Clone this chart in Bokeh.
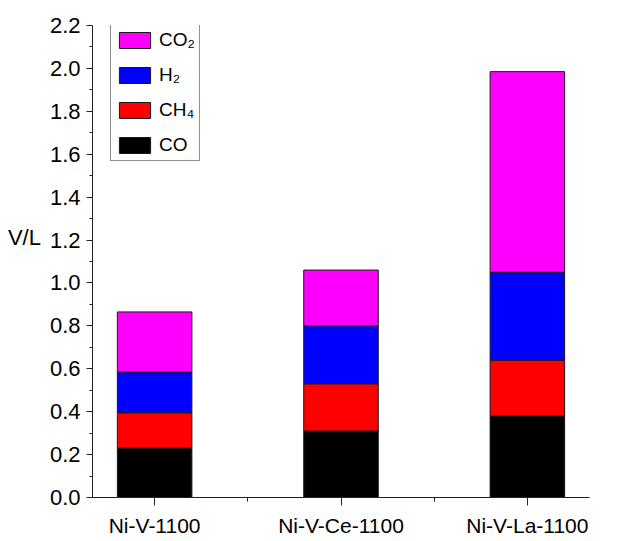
from bokeh.plotting import figure
from bokeh.models import (ColumnDataSource, Range1d, FixedTicker, Legend, LegendItem,
                          PrintfTickFormatter)
from bokeh.embed import file_html
from bokeh.resources import INLINE

# ---- data ----
categories = ["Ni-V-1100", "Ni-V-Ce-1100", "Ni-V-La-1100"]
x_pos = [1, 2, 3]
CO = [0.23, 0.31, 0.38]
CH4 = [0.165, 0.22, 0.26]
H2 = [0.19, 0.27, 0.41]
CO2 = [0.28, 0.26, 0.935]
series = ["CO", "CH4", "H2", "CO2"]
series_labels = {"CO": "CO", "CH4": "CH\u2084", "H2": "H\u2082", "CO2": "CO\u2082"}
colors = ["#000000", "#ff0000", "#0000ff", "#ff00ff"]
y_ticks = [0.0, 0.2, 0.4, 0.6, 0.8, 1.0, 1.2, 1.4, 1.6, 1.8, 2.0, 2.2]
y_minor = [0.1, 0.3, 0.5, 0.7, 0.9, 1.1, 1.3, 1.5, 1.7, 1.9, 2.1]

FONT = "Liberation Sans"

source = ColumnDataSource(dict(x=x_pos, CO=CO, CH4=CH4, H2=H2, CO2=CO2))

p = figure(frame_width=497, frame_height=472,
           x_range=Range1d(0.6667, 3.3333), y_range=Range1d(0, 2.2),
           output_backend="svg", toolbar_location=None,
           min_border_left=92, min_border_top=25, min_border_right=25,
           min_border_bottom=20)
p.outline_line_color = None
p.xgrid.visible = False
p.ygrid.visible = False
p.background_fill_color = "white"
p.border_fill_color = "white"

renderers = p.vbar_stack(series, x="x", width=0.4, source=source,
                         fill_color=colors, line_color="#1a1a1a", line_width=1)

# axes
xa = p.xaxis[0]
xa.ticker = FixedTicker(ticks=x_pos, minor_ticks=[1.5, 2.5])
xa.major_label_overrides = {xv: c for xv, c in zip(x_pos, categories)}
xa.major_tick_out = 8
xa.major_tick_in = 0
xa.minor_tick_out = 4
xa.minor_tick_in = 0
xa.major_label_standoff = 8
xa.major_label_text_font = FONT
xa.major_label_text_font_size = "21px"
xa.major_label_text_color = "black"
xa.axis_line_color = "#222222"
xa.major_tick_line_color = "#222222"
xa.minor_tick_line_color = "#222222"

ya = p.yaxis[0]
ya.ticker = FixedTicker(ticks=y_ticks, minor_ticks=y_minor)
ya.formatter = PrintfTickFormatter(format="%.1f")
ya.major_tick_out = 6
ya.major_tick_in = 0
ya.minor_tick_out = 3
ya.minor_tick_in = 0
ya.major_label_standoff = 6
ya.major_label_text_font = FONT
ya.major_label_text_font_size = "22px"
ya.major_label_text_color = "black"
ya.axis_line_color = "#222222"
ya.major_tick_line_color = "#222222"
ya.minor_tick_line_color = "#222222"

# y-axis label "V/L", horizontal, raised to the 1.2 level
ya.axis_label = "V/L\n"
ya.axis_label_orientation = "horizontal"
ya.axis_label_text_line_height = 1.9
ya.axis_label_standoff = 6
ya.axis_label_text_font = FONT
ya.axis_label_text_font_size = "22px"
ya.axis_label_text_font_style = "normal"
ya.axis_label_text_color = "black"

# legend (top item = CO2)
items = [LegendItem(label=series_labels[s], renderers=[r])
         for s, r in zip(series, renderers)][::-1]
legend = Legend(items=items, location=(18, 336), padding=4, spacing=13,
                glyph_width=39, glyph_height=20, label_standoff=5,
                label_text_font=FONT, label_text_font_size="19px",
                label_text_color="black",
                border_line_color="#222222", border_line_width=1,
                background_fill_color="white", background_fill_alpha=1)
p.add_layout(legend)

open("out.html", "w").write(file_html(p, INLINE))
